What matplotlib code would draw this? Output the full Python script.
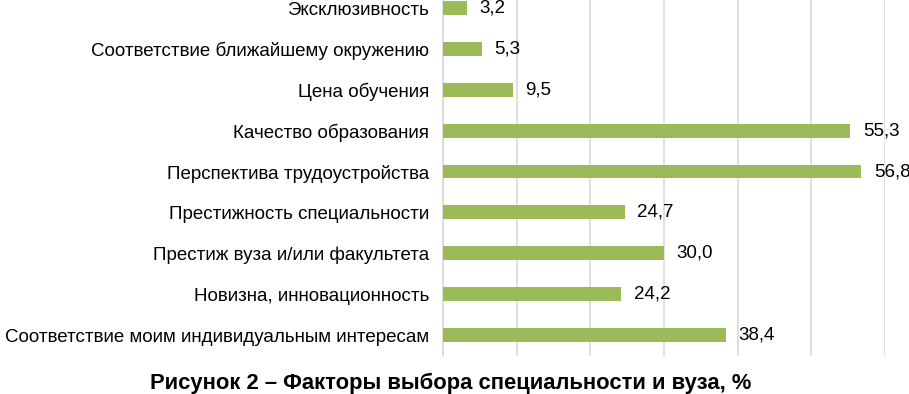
import matplotlib.pyplot as plt

plt.rcParams["font.family"] = ["Liberation Sans", "DejaVu Sans"]

# categories listed bottom to top
categories = [
    "Соответствие моим индивидуальным интересам",
    "Новизна, инновационность",
    "Престиж вуза и/или факультета",
    "Престижность специальности",
    "Перспектива трудоустройства",
    "Качество образования",
    "Цена обучения",
    "Соответствие ближайшему окружению",
    "Эксклюзивность",
]
values = [38.4, 24.2, 30.0, 24.7, 56.8, 55.3, 9.5, 5.3, 3.2]

fig = plt.figure(figsize=(9.09, 3.94), dpi=100)
ax = fig.add_axes([0.4873, 0.0977, 0.4863, 0.9023])

ypos = range(len(categories))
ax.barh(ypos, values, height=0.34, color="#9BBB59", zorder=3)
for y, v in zip(ypos, values):
    ax.annotate(f"{v:.1f}".replace(".", ","), (v, y), xytext=(9, 0),
                textcoords="offset points", va="center", ha="left", fontsize=13.5)

ax.set_xlim(0, 60)
ax.set_ylim(-0.5, 8.196)
ax.set_xticks(range(0, 61, 10))
ax.set_xticklabels([])
ax.set_yticks(list(ypos))
ax.set_yticklabels(categories, fontsize=13.5)
ax.tick_params(length=0, pad=10)
ax.grid(axis="x", color="#d9d9d9", lw=1.2, zorder=0)
for s in ["top", "right", "bottom"]:
    ax.spines[s].set_visible(False)
ax.spines["left"].set_color("#d9d9d9")
ax.spines["left"].set_linewidth(1.2)

fig.text(0.496, 0.0, "Рисунок 2 – Факторы выбора специальности и вуза, %",
         ha="center", va="bottom", fontsize=15.8, fontweight="bold")

fig.savefig("out.png", dpi=100)
